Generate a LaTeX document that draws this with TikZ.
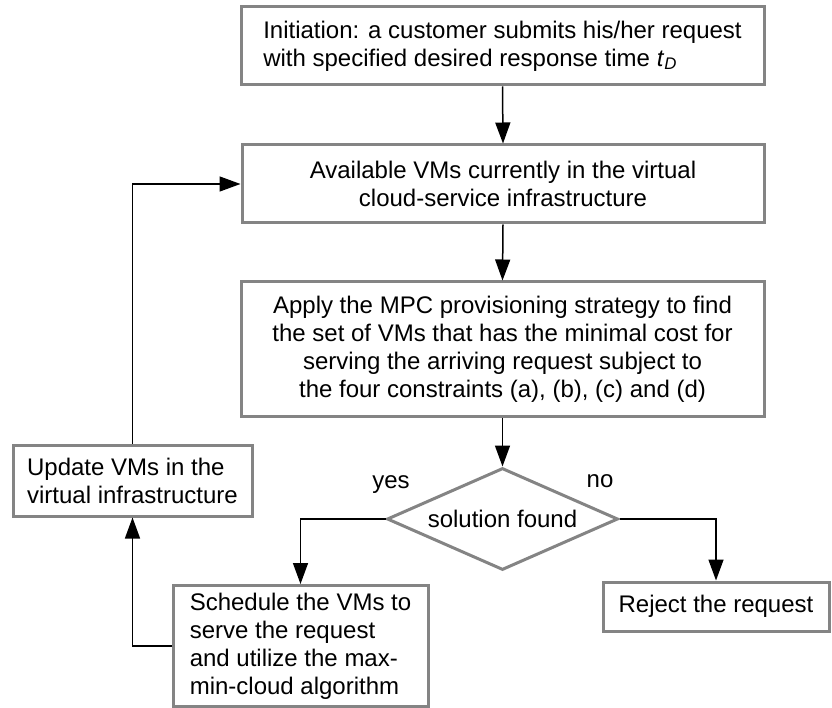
\documentclass[tikz,border=0pt]{standalone}
\usepackage{fontspec}
\setmainfont{Liberation Sans}
\usetikzlibrary{arrows.meta,shapes.geometric}
\definecolor{boxgray}{RGB}{132,132,132}

\begin{document}
\begin{tikzpicture}[x=1pt,y=-1pt,
  box/.style={draw=boxgray, line width=3pt, fill=white, inner sep=0pt,
              font=\fontsize{24}{28}\selectfont},
  decision/.style={box, diamond, aspect=2.26},
  flow/.style={draw=black, line width=1.5pt, -{Triangle[length=21pt,width=15pt]}},
  lbl/.style={font=\fontsize{24}{28}\selectfont, anchor=base, inner sep=0pt}]
\useasboundingbox (0,0) rectangle (832,708);

% process boxes
\node[box, minimum width=523pt, minimum height=78pt, align=left] (init) at (502.5,46)
  {Initiation: a customer submits his/her request\\with specified desired response time \textit{t}\textsubscript{\textit{D}}};
\node[box, minimum width=522pt, minimum height=78pt, align=center] (avail) at (503,184)
  {Available VMs currently in the virtual\\cloud-service infrastructure};
\node[box, minimum width=523pt, minimum height=134pt, align=center] (mpc) at (502.5,349)
  {Apply the MPC provisioning strategy to find\\the set of VMs that has the minimal cost for\\serving the arriving request subject to\\the four constraints (a), (b), (c) and (d)};
\node[decision, minimum width=231pt, minimum height=102pt] (found) at (502.5,519)
  {solution found};
\node[box, minimum width=239pt, minimum height=71pt, align=left] (update) at (132.5,480.5)
  {Update VMs in the\\virtual infrastructure};
\node[box, minimum width=255pt, minimum height=121pt, align=left] (sched) at (300.5,646)
  {Schedule the VMs to\\serve the request\\and utilize the max-\\min-cloud algorithm};
\node[box, minimum width=226pt, minimum height=49pt] (reject) at (716,606.5)
  {Reject the request};

% branch labels
\node[lbl] (yes) at (391,488) {yes};
\node[lbl] (no) at (600,487) {no};

% connectors
\draw[flow] (init.south) -- (avail.north);
\draw[flow] (avail.south) -- (mpc.north);
\draw[flow] (mpc.south) -- (found.north);
\draw[flow] (found.west) -| (sched.north);
\draw[flow] (found.east) -| (reject.north);
\draw[flow] (sched.west) -| (update.south);
\draw[flow] (update.north) |- (avail.west);
\end{tikzpicture}
\end{document}
